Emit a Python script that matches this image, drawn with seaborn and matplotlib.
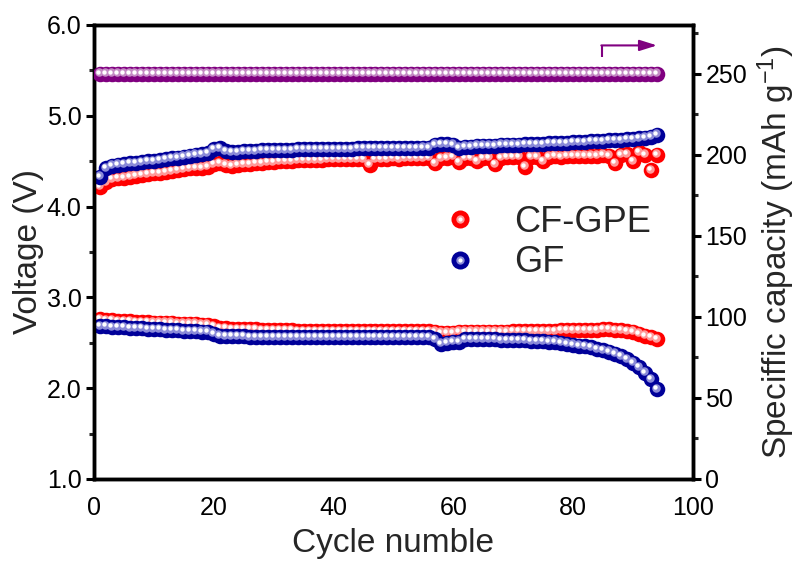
import matplotlib
matplotlib.use("Agg")
import numpy as np
import pandas as pd
import matplotlib.pyplot as plt
import seaborn as sns
from matplotlib import transforms
from matplotlib.lines import Line2D
from matplotlib.legend_handler import HandlerTuple
from matplotlib.ticker import MultipleLocator

# ---- data ----
cycles = list(range(1, 95))

# charge voltage (upper branch), V
cf_charge = [
    4.22, 4.27, 4.30, 4.31, 4.32, 4.33, 4.34, 4.35, 4.36, 4.37,
    4.37, 4.38, 4.39, 4.40, 4.41, 4.42, 4.43, 4.43, 4.44, 4.47,
    4.48, 4.46, 4.45, 4.46, 4.47, 4.47, 4.48, 4.48, 4.49, 4.49,
    4.50, 4.50, 4.50, 4.51, 4.51, 4.51, 4.51, 4.51, 4.52, 4.52,
    4.52, 4.52, 4.52, 4.52, 4.52, 4.46, 4.52, 4.52, 4.52, 4.53,
    4.52, 4.53, 4.53, 4.53, 4.53, 4.54, 4.48, 4.53, 4.54, 4.55,
    4.49, 4.54, 4.54, 4.50, 4.54, 4.54, 4.47, 4.54, 4.55, 4.55,
    4.55, 4.44, 4.55, 4.55, 4.50, 4.55, 4.56, 4.55, 4.56, 4.56,
    4.56, 4.56, 4.56, 4.56, 4.57, 4.56, 4.48, 4.57, 4.58, 4.50,
    4.60, 4.57, 4.40, 4.57]
gf_charge = [
    4.33, 4.42, 4.45, 4.46, 4.47, 4.48, 4.48, 4.49, 4.50, 4.50,
    4.51, 4.52, 4.53, 4.54, 4.55, 4.56, 4.57, 4.58, 4.59, 4.63,
    4.64, 4.61, 4.60, 4.60, 4.61, 4.61, 4.61, 4.62, 4.62, 4.62,
    4.62, 4.62, 4.62, 4.63, 4.63, 4.63, 4.63, 4.63, 4.63, 4.63,
    4.63, 4.63, 4.63, 4.64, 4.64, 4.64, 4.64, 4.64, 4.64, 4.64,
    4.64, 4.64, 4.64, 4.64, 4.65, 4.65, 4.68, 4.69, 4.69, 4.68,
    4.65, 4.66, 4.66, 4.67, 4.67, 4.67, 4.67, 4.68, 4.68, 4.68,
    4.68, 4.69, 4.69, 4.69, 4.69, 4.70, 4.70, 4.70, 4.70, 4.71,
    4.71, 4.71, 4.72, 4.72, 4.72, 4.73, 4.73, 4.73, 4.74, 4.74,
    4.75, 4.76, 4.77, 4.79]

# discharge voltage (lower branch), V
cf_discharge = [
    2.76, 2.75, 2.75, 2.74, 2.74, 2.74, 2.73, 2.73, 2.73, 2.72,
    2.72, 2.72, 2.72, 2.71, 2.71, 2.71, 2.71, 2.70, 2.70, 2.68,
    2.66, 2.66, 2.65, 2.65, 2.65, 2.65, 2.65, 2.64, 2.64, 2.64,
    2.64, 2.64, 2.64, 2.63, 2.63, 2.63, 2.63, 2.63, 2.63, 2.63,
    2.63, 2.63, 2.63, 2.63, 2.63, 2.63, 2.63, 2.63, 2.63, 2.63,
    2.63, 2.63, 2.63, 2.63, 2.63, 2.63, 2.62, 2.61, 2.61, 2.61,
    2.62, 2.62, 2.62, 2.62, 2.62, 2.62, 2.62, 2.62, 2.62, 2.63,
    2.63, 2.63, 2.63, 2.63, 2.63, 2.63, 2.63, 2.64, 2.64, 2.64,
    2.64, 2.64, 2.64, 2.64, 2.65, 2.65, 2.64, 2.64, 2.63, 2.62,
    2.60, 2.58, 2.56, 2.54]
gf_discharge = [
    2.68, 2.68, 2.67, 2.67, 2.67, 2.66, 2.66, 2.66, 2.65, 2.65,
    2.65, 2.64, 2.64, 2.64, 2.63, 2.63, 2.63, 2.62, 2.62, 2.60,
    2.58, 2.57, 2.57, 2.57, 2.57, 2.56, 2.56, 2.56, 2.56, 2.56,
    2.56, 2.56, 2.56, 2.56, 2.56, 2.56, 2.56, 2.56, 2.56, 2.56,
    2.56, 2.56, 2.56, 2.56, 2.56, 2.56, 2.56, 2.56, 2.56, 2.56,
    2.56, 2.56, 2.56, 2.56, 2.56, 2.56, 2.54, 2.49, 2.50, 2.51,
    2.51, 2.54, 2.54, 2.54, 2.54, 2.54, 2.54, 2.53, 2.53, 2.53,
    2.53, 2.53, 2.52, 2.52, 2.52, 2.51, 2.51, 2.50, 2.49, 2.48,
    2.47, 2.46, 2.45, 2.43, 2.42, 2.40, 2.38, 2.35, 2.32, 2.28,
    2.23, 2.17, 2.10, 1.99]

# specific capacity (right axis), mAh/g
capacity = [
    250, 250, 250, 250, 250, 250, 250, 250, 250, 250,
    250, 250, 250, 250, 250, 250, 250, 250, 250, 250,
    250, 250, 250, 250, 250, 250, 250, 250, 250, 250,
    250, 250, 250, 250, 250, 250, 250, 250, 250, 250,
    250, 250, 250, 250, 250, 250, 250, 250, 250, 250,
    250, 250, 250, 250, 250, 250, 250, 250, 250, 250,
    250, 250, 250, 250, 250, 250, 250, 250, 250, 250,
    250, 250, 250, 250, 250, 250, 250, 250, 250, 250,
    250, 250, 250, 250, 250, 250, 250, 250, 250, 250,
    250, 250, 250, 250]

RED, RED_LIGHT = "#ff0000", "#ff9a9a"
BLUE, BLUE_LIGHT = "#000099", "#8a8ad8"
PURPLE, PURPLE_LIGHT = "#800080", "#c48ac4"

sns.set_theme(style="white")
plt.rcParams["font.family"] = ["Liberation Sans", "DejaVu Sans"]
plt.rcParams["mathtext.fontset"] = "custom"
plt.rcParams["mathtext.rm"] = "Liberation Sans"
plt.rcParams["mathtext.it"] = "Liberation Sans:italic"

fig = plt.figure(figsize=(7.99, 5.68), dpi=100)
ax = fig.add_axes([0.1176, 0.1567, 0.7497, 0.7993])
ax2 = ax.twinx()

S = 125


def spheres(axis, x, y, color, light, z):
    # shaded ball look: base disc + offset highlight + tiny white glint
    df = pd.DataFrame({"x": x, "y": y})
    sns.scatterplot(data=df, x="x", y="y", ax=axis, color=color, s=S,
                    linewidth=0, legend=False, zorder=z)
    off1 = transforms.offset_copy(axis.transData, fig=fig, x=-1.4, y=1.4, units="dots")
    axis.scatter(x, y, s=S * 0.30, color=light, linewidth=0, transform=off1, zorder=z + 0.1)
    off2 = transforms.offset_copy(axis.transData, fig=fig, x=-2.0, y=2.0, units="dots")
    axis.scatter(x, y, s=S * 0.08, color="white", linewidth=0, transform=off2, zorder=z + 0.2)


spheres(ax, cycles, cf_charge, RED, RED_LIGHT, 3)
spheres(ax, cycles, cf_discharge, RED, RED_LIGHT, 3)
spheres(ax, cycles, gf_charge, BLUE, BLUE_LIGHT, 4)
spheres(ax, cycles, gf_discharge, BLUE, BLUE_LIGHT, 4)
spheres(ax2, cycles, capacity, PURPLE, PURPLE_LIGHT, 3)

# axes ranges and ticks
ax.set_xlim(0, 100)
ax.set_ylim(1.0, 6.0)
ax2.set_ylim(0, 280)
ax.xaxis.set_major_locator(MultipleLocator(20))
ax.xaxis.set_minor_locator(MultipleLocator(10))
ax.yaxis.set_major_locator(MultipleLocator(1.0))
ax.yaxis.set_minor_locator(MultipleLocator(0.5))
ax2.yaxis.set_major_locator(MultipleLocator(50))
ax2.yaxis.set_minor_locator(MultipleLocator(25))
ax2.set_yticks([0, 50, 100, 150, 200, 250])
ax.yaxis.set_major_formatter(matplotlib.ticker.FormatStrFormatter("%.1f"))

for a in (ax, ax2):
    for sp in a.spines.values():
        sp.set_linewidth(2.5)
        sp.set_color("black")
    a.tick_params(which="major", direction="out", length=6, width=2.2,
                  labelsize=18, colors="black", pad=3)
    a.tick_params(which="minor", direction="out", length=3.5, width=2.2)
ax.tick_params(axis="x", which="major", pad=6)
ax.tick_params(axis="y", which="both", left=True, right=False)
ax2.tick_params(axis="y", which="both", right=True, left=False)
ax.grid(False)
ax2.grid(False)

ax.set_xlabel("Cycle numble", fontsize=24, labelpad=6)
ax.set_ylabel("Voltage (V)", fontsize=24, labelpad=2)
ax2.set_ylabel("Speciffic capacity (mAh g$^{-1}$)", fontsize=24, labelpad=6)

# arrow pointing to the right axis
ax.plot([0.848, 0.848], [0.930, 0.956], transform=ax.transAxes, color=PURPLE, lw=1.5,
        solid_capstyle="butt", zorder=6)
ax.annotate("", xy=(0.94, 0.955), xytext=(0.847, 0.955), xycoords="axes fraction",
            arrowprops=dict(arrowstyle="-|>,head_length=0.7,head_width=0.22",
                            color=PURPLE, lw=1.5, mutation_scale=15, shrinkA=0, shrinkB=0))

# legend with ball-like handles
def ball(color, light):
    base = Line2D([], [], ls="none", marker="o", markersize=13, color=color, mec="none")
    hl = Line2D([], [], ls="none", marker="o", markersize=6, color=light, mec="none")
    glint = Line2D([], [], ls="none", marker="o", markersize=3, color="white", mec="none")
    return (base, hl, glint)


ax.legend([ball(RED, RED_LIGHT), ball(BLUE, BLUE_LIGHT)], ["CF-GPE", "GF"],
          handler_map={tuple: HandlerTuple(ndivide=1, pad=0)},
          loc="center left", bbox_to_anchor=(0.581, 0.521), frameon=False,
          fontsize=26, handlelength=1.0, handletextpad=1.0, labelspacing=0.15,
          borderpad=0, borderaxespad=0)

fig.savefig("out.png", dpi=100)
